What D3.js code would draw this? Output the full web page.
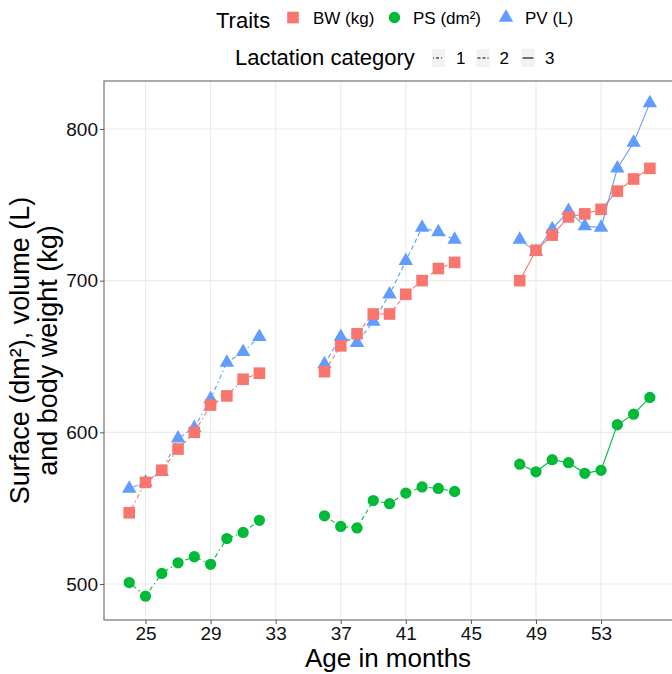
<!DOCTYPE html>
<html><head><meta charset="utf-8">
<script src="https://cdn.jsdelivr.net/npm/d3@7"></script>
<style>body{margin:0;background:#fff}svg{display:block;font-family:"Liberation Sans",Arial,sans-serif}</style>
</head><body>
<svg id="c" width="672" height="674"></svg>
<script>
// ---- data ----
const ages1 = [24,25,26,27,28,29,30,31,32];
const ages2 = [36,37,38,39,40,41,42,43,44];
const ages3 = [48,49,50,51,52,53,54,55,56];
const BW1 = [547,567,575,589,600,618,624,635,639];
const PV1 = [563,567,574,596,603,622,646,653,663];
const PS1 = [501,492,507,514,518,513,530,534,542];
const BW2 = [640,657,665,678,678,691,700,708,712];
const PV2 = [645,663,659,673,691,713,735,732,727];
const PS2 = [545,538,537,555,553,560,564,563,561];
const BW3 = [700,720,730,742,744,747,759,767,774];
const PV3 = [727,719,734,746,736,735,774,791,817];
const PS3 = [579,574,582,580,573,575,605,612,623];
const traits = ["BW (kg)","PS (dm²)","PV (L)"];
const lactations = ["1","2","3"];
const xTicks = [25,29,33,37,41,45,49,53];
const yTicks = [500,600,700,800];

const colors = {"BW (kg)":"#F8766D","PS (dm²)":"#00BA38","PV (L)":"#619CFF"};
const symbols = {"BW (kg)":d3.symbolSquare,"PS (dm²)":d3.symbolCircle,"PV (L)":d3.symbolTriangle};
const symSize = {"BW (kg)":135,"PS (dm²)":100,"PV (L)":90};
const dashes = {"1":"1.5,3,4.5,3","2":"4.5,3","3":null};

const series = [];
const agesBy = {"1":ages1,"2":ages2,"3":ages3};
const vals = {
  "BW (kg)":{"1":BW1,"2":BW2,"3":BW3},
  "PS (dm²)":{"1":PS1,"2":PS2,"3":PS3},
  "PV (L)":{"1":PV1,"2":PV2,"3":PV3}
};
traits.forEach(t=>lactations.forEach(l=>{
  series.push({trait:t,lact:l,pts:agesBy[l].map((a,i)=>({x:a,y:vals[t][l][i]}))});
}));

// ---- layout ----
const svg = d3.select("#c");
const L=104, R=676, T=81, B=620;
const x = d3.scaleLinear().domain([22.4,57.6]).range([103.2,675.9]);
const y = d3.scaleLinear().domain([476.3,831.6]).range([B,T]);

// grid
const g = svg.append("g");
g.selectAll(".gx").data(xTicks).join("line").attr("x1",d=>x(d)).attr("x2",d=>x(d)).attr("y1",T).attr("y2",B).attr("stroke","#ebebeb").attr("stroke-width",1.1);
g.selectAll(".gy").data(yTicks).join("line").attr("x1",L).attr("x2",R).attr("y1",d=>y(d)).attr("y2",d=>y(d)).attr("stroke","#ebebeb").attr("stroke-width",1.1);
// border
svg.append("rect").attr("x",L).attr("y",T).attr("width",R-L).attr("height",B-T).attr("fill","none").attr("stroke","#7f7f7f").attr("stroke-width",1.3);

// axes
const xa = svg.append("g").attr("transform",`translate(0,${B})`).call(d3.axisBottom(x).tickValues(xTicks).tickSize(4).tickPadding(3));
const ya = svg.append("g").attr("transform",`translate(${L},0)`).call(d3.axisLeft(y).tickValues(yTicks).tickSize(4).tickPadding(2));
[xa,ya].forEach(a=>{a.select(".domain").remove();a.selectAll("line").attr("stroke","#555");a.selectAll("text").attr("fill","#111").attr("font-size",19).attr("font-family","Liberation Sans, Arial, sans-serif");});

// lines
const line = d3.line().x(d=>x(d.x)).y(d=>y(d.y));
svg.append("g").selectAll("path").data(series).join("path")
  .attr("d",d=>line(d.pts)).attr("fill","none").attr("stroke",d=>colors[d.trait]).attr("stroke-width",1.1)
  .attr("stroke-dasharray",d=>dashes[d.lact]);

// points (PV first, then BW, then PS)
const order = ["PV (L)","BW (kg)","PS (dm²)"];
order.forEach(t=>{
  const pts = series.filter(s=>s.trait===t).flatMap(s=>s.pts);
  svg.append("g").selectAll("path").data(pts).join("path")
    .attr("transform",d=>`translate(${x(d.x)},${y(d.y)})`)
    .attr("d",d3.symbol().type(symbols[t]).size(symSize[t]))
    .attr("fill",colors[t]);
});

// axis titles
svg.append("text").attr("x",(L+R)/2-2).attr("y",667).attr("text-anchor","middle").attr("font-size",26).attr("fill","#000").text("Age in months");
const yt = svg.append("text").attr("transform",`translate(0,${(T+B)/2}) rotate(-90)`).attr("text-anchor","middle").attr("font-size",27).attr("fill","#000");
yt.append("tspan").attr("x",0).attr("y",29).text("Surface (dm²), volume (L)");
yt.append("tspan").attr("x",0).attr("y",57).text("and body weight (kg)");

// legend: traits
const lg = svg.append("g");
lg.append("text").attr("x",216).attr("y",28).attr("font-size",22).attr("fill","#000").text("Traits");
const tPos = [{t:"BW (kg)",kx:293,tx:313},{t:"PS (dm²)",kx:394.5,tx:413},{t:"PV (L)",kx:506,tx:525}];
tPos.forEach(p=>{
  lg.append("path").attr("transform",`translate(${p.kx},17.5)`).attr("d",d3.symbol().type(symbols[p.t]).size(symSize[p.t])).attr("fill",colors[p.t]);
  lg.append("text").attr("x",p.tx).attr("y",24).attr("font-size",17).attr("fill","#000").text(p.t);
});
// legend: lactation
lg.append("text").attr("x",235).attr("y",65).attr("font-size",22).attr("fill","#000").text("Lactation category");
const lPos = [{l:"1",kx:432,tx:456},{l:"2",kx:476.5,tx:499.5},{l:"3",kx:521.5,tx:545}];
lPos.forEach(p=>{
  lg.append("rect").attr("x",p.kx).attr("y",49).attr("width",13).attr("height",18).attr("fill","#f2f2f2");
  lg.append("line").attr("x1",p.kx+1).attr("x2",p.kx+12).attr("y1",58).attr("y2",58).attr("stroke","#000").attr("stroke-width",1.1).attr("stroke-dasharray",p.l==="1"?"1,2,3,2":(p.l==="2"?"3,2":null));
  lg.append("text").attr("x",p.tx).attr("y",64).attr("font-size",17).attr("fill","#000").text(p.l);
});
</script>
</body></html>
